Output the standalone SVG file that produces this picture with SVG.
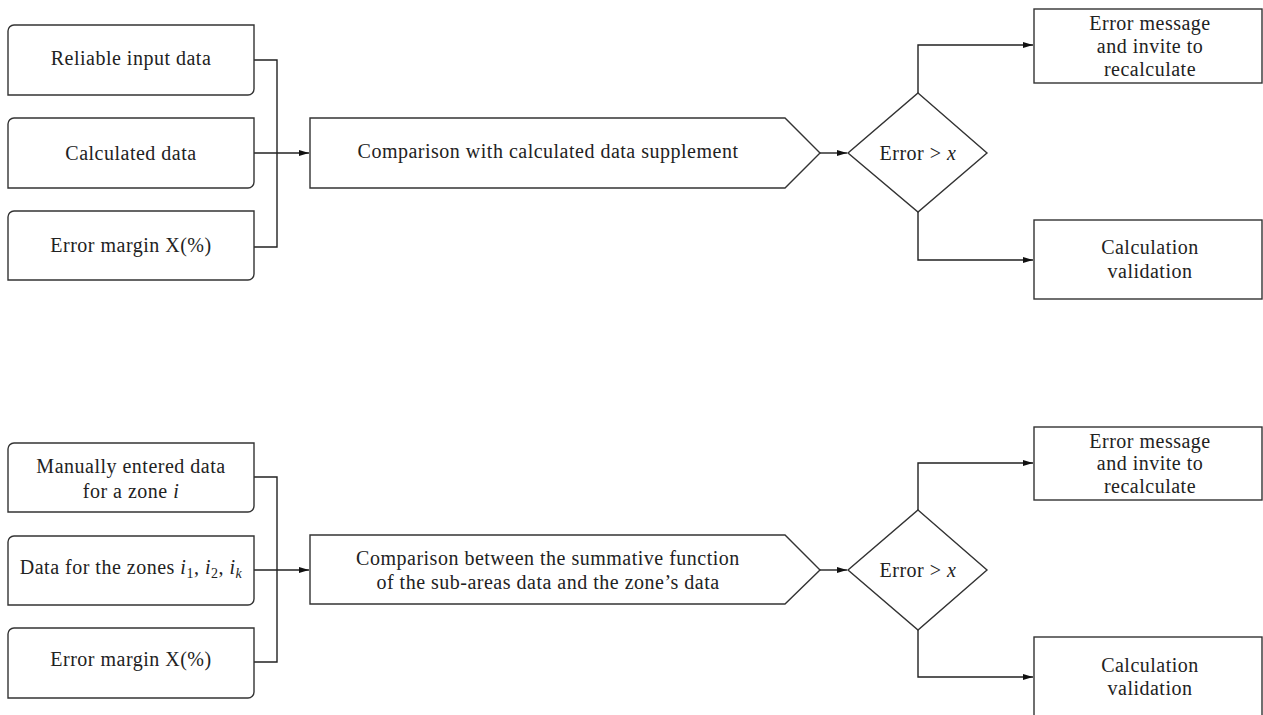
<svg xmlns="http://www.w3.org/2000/svg" width="1263" height="715" viewBox="0 0 1263 715">
<style>
.s{fill:#fff;stroke:#333;stroke-width:1.4}
.c{fill:none;stroke:#222;stroke-width:1.4}
text{font-family:'Liberation Serif','Times New Roman',serif;font-size:20px;fill:#222;text-anchor:middle;letter-spacing:0.5px}
.i{font-style:italic}
.sub{font-size:14px}
</style>
<defs>
<marker id="a" viewBox="0 0 10 6" refX="10" refY="3" markerWidth="10" markerHeight="6" markerUnits="userSpaceOnUse" orient="auto">
<path d="M0,0 L10,3 L0,6 Z" fill="#111"/>
</marker>
</defs>
<rect width="1263" height="715" fill="#fff"/>
<g id="connectors">
<path class="c" d="M254,60 H277 V247 H254"/>
<path class="c" d="M254,153 H309" marker-end="url(#a)"/>
<path class="c" d="M820,153 H847" marker-end="url(#a)"/>
<path class="c" d="M918,93 V45 H1033" marker-end="url(#a)"/>
<path class="c" d="M918,212 V260 H1033" marker-end="url(#a)"/>
<path class="c" d="M254,477 H277 V662 H254"/>
<path class="c" d="M254,570 H309" marker-end="url(#a)"/>
<path class="c" d="M820,570 H847" marker-end="url(#a)"/>
<path class="c" d="M918,510 V463 H1033" marker-end="url(#a)"/>
<path class="c" d="M918,630 V677 H1033" marker-end="url(#a)"/>
</g>
<g id="n1">
<path class="s" d="M14,25 H254 V89 A6,6 0 0 1 248,95 H8 V31 A6,6 0 0 1 14,25 Z"/>
<text x="131" y="65">Reliable input data</text>
</g>
<g id="n2">
<path class="s" d="M14,118 H254 V182 A6,6 0 0 1 248,188 H8 V124 A6,6 0 0 1 14,118 Z"/>
<text x="131" y="160">Calculated data</text>
</g>
<g id="n3">
<path class="s" d="M14,211 H254 V274 A6,6 0 0 1 248,280 H8 V217 A6,6 0 0 1 14,211 Z"/>
<text x="131" y="252">Error margin X(%)</text>
</g>
<g id="n4">
<path class="s" d="M310,118 H785 L820,153 L785,188 H310 Z"/>
<text x="548" y="158">Comparison with calculated data supplement</text>
</g>
<g id="n5">
<path class="s" d="M918,93 L987,153 L918,212 L848,153 Z"/>
<text x="918" y="160">Error &gt; <tspan class="i">x</tspan></text>
</g>
<g id="n6">
<rect class="s" x="1034" y="9" width="228" height="74"/>
<text x="1150" y="30">Error message</text>
<text x="1150" y="53">and invite to</text>
<text x="1150" y="76">recalculate</text>
</g>
<g id="n7">
<rect class="s" x="1034" y="220" width="228" height="79"/>
<text x="1150" y="254">Calculation</text>
<text x="1150" y="278">validation</text>
</g>
<g id="m1">
<path class="s" d="M14,443 H254 V506 A6,6 0 0 1 248,512 H8 V449 A6,6 0 0 1 14,443 Z"/>
<text x="131" y="473">Manually entered data</text>
<text x="131" y="498">for a zone <tspan class="i">i</tspan></text>
</g>
<g id="m2">
<path class="s" d="M14,536 H254 V599 A6,6 0 0 1 248,605 H8 V542 A6,6 0 0 1 14,536 Z"/>
<text x="131" y="574">Data for the zones <tspan class="i">i</tspan><tspan class="sub" dy="4">1</tspan><tspan dy="-4">, </tspan><tspan class="i">i</tspan><tspan class="sub" dy="4">2</tspan><tspan dy="-4">, </tspan><tspan class="i">i</tspan><tspan class="sub i" dy="4">k</tspan></text>
</g>
<g id="m3">
<path class="s" d="M14,628 H254 V692 A6,6 0 0 1 248,698 H8 V634 A6,6 0 0 1 14,628 Z"/>
<text x="131" y="666">Error margin X(%)</text>
</g>
<g id="m4">
<path class="s" d="M310,535 H785 L820,570 L785,604 H310 Z"/>
<text x="548" y="565">Comparison between the summative function</text>
<text x="548" y="589">of the sub-areas data and the zone’s data</text>
</g>
<g id="m5">
<path class="s" d="M918,510 L987,570 L918,630 L848,570 Z"/>
<text x="918" y="577">Error &gt; <tspan class="i">x</tspan></text>
</g>
<g id="m6">
<rect class="s" x="1034" y="427" width="228" height="73"/>
<text x="1150" y="448">Error message</text>
<text x="1150" y="470">and invite to</text>
<text x="1150" y="493">recalculate</text>
</g>
<g id="m7">
<rect class="s" x="1034" y="637" width="228" height="90"/>
<text x="1150" y="672">Calculation</text>
<text x="1150" y="695">validation</text>
</g>
</svg>
